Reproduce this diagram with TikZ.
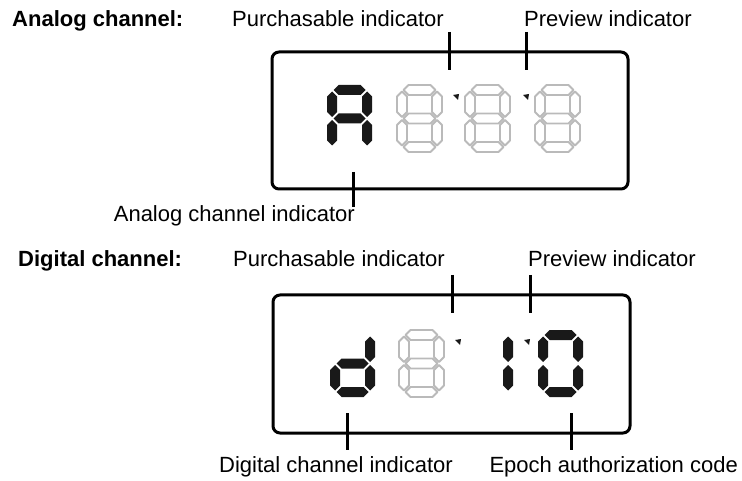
\documentclass[tikz,border=0pt]{standalone}
\usepackage{fontspec}
\setmainfont{Liberation Sans}
\tikzset{
  panel/.style={line width=3pt, rounded corners=7pt},
  leader/.style={line width=3pt},
  callout/.style={font=\fontsize{22}{26}\selectfont, inner sep=0pt},
  heading/.style={inner sep=0pt, font=\fontsize{22}{26}\selectfont\bfseries},
  litseg/.style={fill=black!90},
  offseg/.style={draw=black!27, line width=1.8pt, line join=round},
}
% one segment of a seven-segment digit (local units)
\newcommand{\hseg}[4]{\path[#1] (#2,#4) -- (#2+5,#4-5) -- (#3-5,#4-5) -- (#3,#4) -- (#3-5,#4+5) -- (#2+5,#4+5) -- cycle;}
\newcommand{\vseg}[4]{\path[#1] (#4,#2) -- (#4+5,#2+5) -- (#4+5,#3-5) -- (#4,#3) -- (#4-5,#3-5) -- (#4-5,#2+5) -- cycle;}
\newcommand{\lcdsega}[1]{\hseg{#1}{6.5}{38.5}{5}}
\newcommand{\lcdsegb}[1]{\vseg{#1}{6.5}{32}{40}}
\newcommand{\lcdsegc}[1]{\vseg{#1}{35}{60.5}{40}}
\newcommand{\lcdsegd}[1]{\hseg{#1}{6.5}{38.5}{62}}
\newcommand{\lcdsege}[1]{\vseg{#1}{35}{60.5}{5}}
\newcommand{\lcdsegf}[1]{\vseg{#1}{6.5}{32}{5}}
\newcommand{\lcdsegg}[1]{\hseg{#1}{6.5}{38.5}{33.5}}
\newcommand{\lcddigit}[4]{%
  \begin{scope}[shift={(#2,#3)}]
    \foreach \s in {#4} {\csname lcdseg\s\endcsname{#1}}
  \end{scope}}
\newcommand{\lcddot}[2]{\fill[black!90] (#1-3,#2-2) -- (#1+3,#2-3) -- (#1+2,#2+3) -- cycle;}

\begin{document}
\begin{tikzpicture}[x=1pt, y=-1pt]
  \useasboundingbox (0,0) rectangle (742,481);

  % analog channel
  \node[heading, anchor=base west] (anahead) at (12,27) {Analog channel:};
  \node[callout, anchor=base west] (anabuy) at (232,27) {Purchasable indicator};
  \node[callout, anchor=base west] (anaprev) at (524,27) {Preview indicator};
  \node[callout, anchor=base east] (anaind) at (355,222) {Analog channel indicator};
  \draw[panel] (272,52) rectangle (628,189);
  \coordinate (anabuyT) at (449,32);
  \coordinate (anabuyB) at (449,70);
  \coordinate (anaprevT) at (526,32);
  \coordinate (anaprevB) at (526,70);
  \coordinate (anaindT) at (353,172);
  \coordinate (anaindB) at (353,207);
  \draw[leader] (anabuyT) -- (anabuyB);
  \draw[leader] (anaprevT) -- (anaprevB);
  \draw[leader] (anaindT) -- (anaindB);
  \lcddigit{litseg}{327}{85}{a,b,c,e,f,g}
  \lcddigit{offseg}{397}{85}{a,b,c,d,e,f,g}
  \lcddigit{offseg}{465}{85}{a,b,c,d,e,f,g}
  \lcddigit{offseg}{535}{85}{a,b,c,d,e,f,g}
  \lcddot{456}{97}
  \lcddot{526}{97}

  % digital channel
  \node[heading, anchor=base west] (dighead) at (18,267) {Digital channel:};
  \node[callout, anchor=base west] (digbuy) at (233,267) {Purchasable indicator};
  \node[callout, anchor=base west] (digprev) at (528,267) {Preview indicator};
  \node[callout, anchor=base] (digind) at (336,472) {Digital channel indicator};
  \node[callout, anchor=base east] (digepoch) at (738,472) {Epoch authorization code};
  \draw[panel] (273,295) rectangle (630,433);
  \coordinate (digbuyT) at (452,275);
  \coordinate (digbuyB) at (452,313);
  \coordinate (digprevT) at (530,275);
  \coordinate (digprevB) at (530,313);
  \coordinate (digindT) at (347,413);
  \coordinate (digindB) at (347,450);
  \coordinate (digepochT) at (571,413);
  \coordinate (digepochB) at (571,450);
  \draw[leader] (digbuyT) -- (digbuyB);
  \draw[leader] (digprevT) -- (digprevB);
  \draw[leader] (digindT) -- (digindB);
  \draw[leader] (digepochT) -- (digepochB);
  \lcddigit{litseg}{330}{330}{b,c,d,e,g}
  \lcddigit{offseg}{399}{330}{a,b,c,d,e,f,g}
  \lcddigit{litseg}{468}{330}{b,c}
  \lcddigit{litseg}{538}{330}{a,b,c,d,e,f}
  \lcddot{458}{342}
  \lcddot{527}{342}
\end{tikzpicture}
\end{document}
